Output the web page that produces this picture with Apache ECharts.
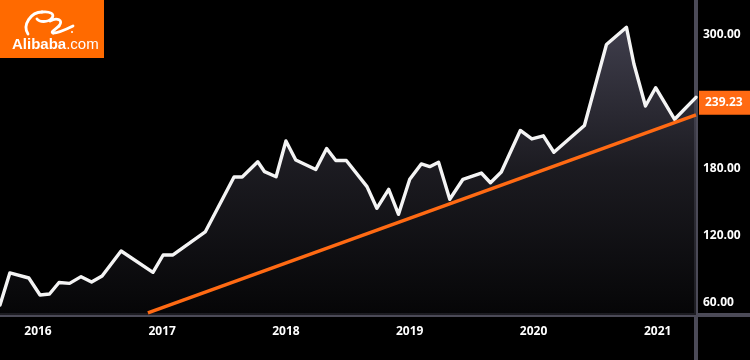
<!DOCTYPE html>
<html><head><meta charset="utf-8">
<script src="https://cdn.jsdelivr.net/npm/echarts@6/dist/echarts.min.js"></script>
<style>html,body{margin:0;padding:0;background:#000;}#c{width:750px;height:360px;}</style>
</head><body><div id="c"></div>
<script>
// Price series
const dates = ['2015-09-11','2015-10-10','2015-12-05','2016-01-07','2016-02-04','2016-03-03','2016-04-03','2016-05-07','2016-06-07','2016-07-08','2016-09-02','2016-12-05','2017-01-04','2017-02-02','2017-05-08','2017-08-01','2017-08-25','2017-10-10','2017-10-30','2017-12-03','2018-01-01','2018-01-30','2018-03-30','2018-05-01','2018-05-28','2018-06-28','2018-08-28','2018-09-26','2018-10-31','2018-11-29','2019-01-01','2019-02-04','2019-03-01','2019-03-27','2019-04-29','2019-06-07','2019-07-31','2019-08-27','2019-09-28','2019-11-23','2019-12-27','2020-01-30','2020-03-01','2020-05-30','2020-08-03','2020-10-01','2020-10-23','2020-11-26','2020-12-26','2021-02-20','2021-04-24'];
const prices = [58.2,86.9,82.4,67.2,68.1,78.4,77.6,83.6,78.8,84.2,106.6,87.5,103.0,103.0,123.6,172.8,172.8,186.5,177.6,173.1,205.1,188.1,179.6,198.4,187.6,187.6,164.2,144.8,161.8,139.4,170.8,184.5,182.1,186.0,152.9,170.8,176.4,167.7,177.3,214.5,206.9,209.7,195.0,219.0,291.5,306.9,274.0,236.4,252.8,224.5,244.2];
// Support trend line
const trendDates = ['2016-11-20','2021-04-24'];
const trendValues = [51.1, 228.4];
// Last price tag
const lastPrice = 239.23;
// Tick labels
const yTicks = [60, 120, 180, 300];
const yearTicks = [2016, 2017, 2018, 2019, 2020, 2021];
const logoText = ['Alibaba', '.com'];

const t = d => Date.parse(d + 'T00:00:00Z');
const chart = echarts.init(document.getElementById('c'), null, {renderer: 'canvas'});
const FONT = '"Open Sans", "Liberation Sans", sans-serif';
const AXIS_COLOR = '#4b4a57';
const glyphStyle = {fill: 'none', stroke: '#ffffff', lineWidth: 2.8, lineCap: 'round'};
const bz = (x1, y1, cpx1, cpy1, cpx2, cpy2, x2, y2) => ({type: 'bezierCurve', shape: {x1, y1, cpx1, cpy1, cpx2, cpy2, x2, y2}, style: glyphStyle});

chart.setOption({
  backgroundColor: '#000000',
  animation: false,
  grid: {left: 0, right: 54, top: 0, bottom: 45, containLabel: false},
  xAxis: {
    type: 'value',
    min: t('2015-09-11'),
    max: t('2021-04-24'),
    axisLine: {show: true, onZero: false, lineStyle: {color: AXIS_COLOR, width: 4}},
    axisTick: {show: false},
    splitLine: {show: false},
    axisLabel: {
      customValues: yearTicks.map(y => Date.UTC(y, 0, 1)),
      formatter: v => String(new Date(v).getUTCFullYear()),
      color: '#ffffff', fontFamily: FONT, fontWeight: 'bold', fontSize: 12, margin: 11
    }
  },
  yAxis: {
    type: 'value',
    position: 'right',
    min: 49.26,
    max: 331.34,
    axisLine: {show: true, lineStyle: {color: AXIS_COLOR, width: 4}},
    axisTick: {show: false},
    splitLine: {show: false},
    axisLabel: {
      customValues: yTicks,
      formatter: v => v.toFixed(2),
      color: '#ffffff', fontFamily: FONT, fontWeight: 'bold', fontSize: 12, margin: 7
    }
  },
  series: [
    {
      type: 'line',
      name: 'price',
      data: dates.map((d, i) => [t(d), prices[i]]),
      showSymbol: false,
      symbol: 'none',
      z: 3,
      lineStyle: {color: '#f4f4f4', width: 3.4, join: 'round', cap: 'round'},
      areaStyle: {
        origin: 'start',
        color: new echarts.graphic.LinearGradient(0, 0, 0, 1, [
          {offset: 0, color: '#5a586c'},
          {offset: 0.5, color: '#27262e'},
          {offset: 1, color: '#08080a'}
        ])
      }
    },
    {
      type: 'line',
      name: 'trend',
      data: trendDates.map((d, i) => [t(d), trendValues[i]]),
      showSymbol: false,
      symbol: 'none',
      z: 4,
      lineStyle: {color: '#ff6a13', width: 3.5},
      markLine: {
        silent: true,
        symbol: 'none',
        lineStyle: {color: 'rgba(0,0,0,0)', width: 1, type: 'solid'},
        label: {
          show: true,
          position: 'end',
          distance: 3,
          formatter: () => lastPrice.toFixed(2),
          color: '#ffffff', fontFamily: FONT, fontWeight: 'bold', fontSize: 12,
          backgroundColor: '#ff6a13',
          padding: [6, 12, 6, 6]
        },
        data: [{yAxis: lastPrice}]
      }
    }
  ],
  graphic: [
    {type: 'line', shape: {x1: 696, y1: 315, x2: 750, y2: 315}, style: {stroke: AXIS_COLOR, lineWidth: 4}, z: 10},
    {type: 'line', shape: {x1: 696, y1: 315, x2: 696, y2: 360}, style: {stroke: AXIS_COLOR, lineWidth: 4}, z: 10},
    {
      type: 'group', left: 0, top: 0, z: 20,
      children: [
        {type: 'rect', shape: {x: 0, y: 0, width: 104, height: 58}, style: {fill: '#ff6a00'}},
        bz(28, 34, 22, 25, 31, 12, 42, 12),
        bz(42, 12, 50, 11, 55, 14, 52, 18),
        bz(52, 18, 48, 23, 39, 22, 37, 19),
        bz(50, 21, 57, 17, 64, 20, 59, 26),
        bz(59, 26, 56, 29, 50, 32, 53, 33),
        bz(53, 33, 58, 33, 67, 29, 73, 26),
        {type: 'circle', shape: {cx: 72, cy: 32, r: 1}, style: {fill: '#ffffff'}},
        {type: 'text', x: 12, y: 37, style: {
          text: '{a|' + logoText[0] + '}{b|' + logoText[1] + '}',
          fill: '#ffffff',
          rich: {
            a: {fill: '#ffffff', fontFamily: '"Liberation Sans", Arial, sans-serif', fontWeight: 'bold', fontSize: 15},
            b: {fill: '#ffffff', fontFamily: '"Liberation Sans", Arial, sans-serif', fontSize: 15}
          }
        }}
      ]
    }
  ]
});
</script>
</body></html>
